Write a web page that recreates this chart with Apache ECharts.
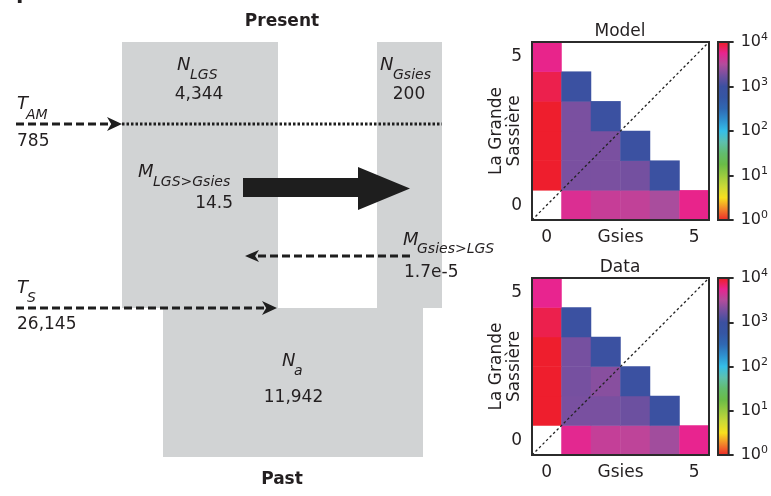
<!DOCTYPE html>
<html><head><meta charset="utf-8">
<script src="https://cdn.jsdelivr.net/npm/echarts@6/dist/echarts.min.js"></script>
<style>html,body{margin:0;padding:0;background:#fff}#c{width:771px;height:496px}</style>
</head><body><div id="c"></div>
<script>
// ---------------- DATA ----------------
const gsiesBins = ['0', '1', '2', '3', '4', '5'];
const lgsBins = ['0', '1', '2', '3', '4', '5'];
// joint SFS counts: row = La Grande Sassière allele count (0..5), column = Gsies allele count (0..5)
const modelSFS = [
  [null, 4900, 3900, 3700, 2900, 5750],
  [9700, 1900, 1900, 1800, 930],
  [9700, 1900, 1900, 930],
  [9700, 1900, 930],
  [8100, 930],
  [5750]
];
const dataSFS = [
  [null, 5300, 3800, 3550, 2700, 5600],
  [9700, 1870, 1870, 1660, 900],
  [9700, 1820, 2140, 930],
  [9700, 1820, 930],
  [8100, 930],
  [5600]
];
const colorExponents = [0, 1, 2, 3, 4];
const popLabels = ['LGS', 'Gsies', 'a'];
const popSizes = [4344, 200, 11942];
const migLabels = ['LGS>Gsies', 'Gsies>LGS'];
const migRates = [14.5, 1.7e-5];
const timeLabels = ['AM', 'S'];
const timeValues = [785, 26145];

// ---------------- STYLE ----------------
const FONT = '"DejaVu Sans", "Liberation Sans", Arial, sans-serif';
const TXT = '#231F20';
const GRAY = '#D1D3D4';
const DARK = '#1E1E1E';
const palette = ['#EE2B2A', '#F2862A', '#F8E01E', '#CBD936', '#9ACB3F', '#6ABC47', '#62BC6E', '#5DC0AE',
  '#35BEE8', '#2F90CF', '#2F68B3', '#3556A4', '#3C50A0', '#7350A0', '#B34C9C', '#E8248F', '#EE1E27'];

const fmtInt = v => v.toLocaleString('en-US');
function logCells(m) {
  const out = [];
  m.forEach((row, y) => row.forEach((v, x) => { if (v != null) out.push([x, y, Math.log10(v)]); }));
  return out;
}

// schematic layout (units of the hidden schematic axes)
const LAYOUT = {
  blocks: [[122, 42, 278, 308], [377, 42, 442, 308], [163, 308, 423, 457]],
  sizeLabelPos: [[177, 190, 199, 65, 95], [380, 393, 409, 65, 95], [282, 294, 293.5, 361, 398]],
  dotted: [122, 442, 124],
  timeArrows: [[16, 122, 124], [16, 277, 308]],
  timeText: [[17, 26, 104, 115, 142], [17, 27, 288, 298, 325]],
  bigArrow: { x0: 243, x1: 358, tip: 410, yTop: 178, yBot: 197, hTop: 167, hBot: 210 },
  backArrow: [410, 245, 256],
  migText: [[138, 153, 172, 182, 233, 204, 'right'], [403, 417, 240, 249, 404, 273, 'left']]
};

function renderSchematic(params, api) {
  const P = (x, y) => api.coord([x, y]);
  const ch = [];
  const font = (size, it, bold) => (it ? 'italic ' : '') + (bold ? 'bold ' : '') + size + 'px ' + FONT;
  const text = (x, y, s, size, opt) => {
    opt = opt || {};
    const p = P(x, y);
    ch.push({ type: 'text', x: p[0], y: p[1], style: { text: s, fill: TXT, font: font(size, opt.it, opt.bold), align: opt.align || 'left', verticalAlign: 'middle' } });
  };
  LAYOUT.blocks.forEach(b => {
    const a = P(b[0], b[1]), c = P(b[2], b[3]);
    ch.push({ type: 'rect', shape: { x: a[0], y: a[1], width: c[0] - a[0], height: c[1] - a[1] }, style: { fill: GRAY } });
  });
  // dotted admixture line
  const d0 = P(LAYOUT.dotted[0], LAYOUT.dotted[2]), d1 = P(LAYOUT.dotted[1], LAYOUT.dotted[2]);
  ch.push({ type: 'line', shape: { x1: d0[0], y1: d0[1], x2: d1[0], y2: d1[1] }, style: { stroke: DARK, lineWidth: 3, lineDash: [2.5, 2] } });
  const head = (tip, y, dir, len, half) => {
    const t = P(tip, y);
    ch.push({ type: 'polygon', shape: { points: [[t[0], t[1]], [t[0] - dir * len, t[1] - half], [t[0] - dir * len * 0.72, t[1]], [t[0] - dir * len, t[1] + half]] }, style: { fill: DARK } });
  };
  LAYOUT.timeArrows.forEach(a => {
    const s = P(a[0], a[2]), e = P(a[1] - 10, a[2]);
    ch.push({ type: 'line', shape: { x1: s[0], y1: s[1], x2: e[0], y2: e[1] }, style: { stroke: DARK, lineWidth: 3.2, lineDash: [8, 4] } });
    head(a[1], a[2], 1, 15, 7);
  });
  // back-migration dashed arrow
  const b = LAYOUT.backArrow;
  const bs = P(b[0], b[2]), be = P(b[1] + 10, b[2]);
  ch.push({ type: 'line', shape: { x1: bs[0], y1: bs[1], x2: be[0], y2: be[1] }, style: { stroke: DARK, lineWidth: 3.2, lineDash: [8, 4] } });
  head(b[1], b[2], -1, 14, 6);
  // big migration arrow
  const g = LAYOUT.bigArrow;
  const pts = [[g.x0, g.yTop], [g.x1, g.yTop], [g.x1, g.hTop], [g.tip, (g.hTop + g.hBot) / 2], [g.x1, g.hBot], [g.x1, g.yBot], [g.x0, g.yBot]].map(q => P(q[0], q[1]));
  ch.push({ type: 'polygon', shape: { points: pts }, style: { fill: DARK } });

  // texts
  text(282, 21.5, 'Present', 17, { bold: true, align: 'center' });
  text(282, 480, 'Past', 17, { bold: true, align: 'center' });
  text(16, -2, 'F', 20, { bold: true });
  LAYOUT.sizeLabelPos.forEach((p, i) => {
    text(p[0], p[3], 'N', 18, { it: true });
    text(p[1], p[3] + 10, popLabels[i], 14, { it: true });
    text(p[2], p[4], fmtInt(popSizes[i]), 17, { align: 'center' });
  });
  LAYOUT.timeText.forEach((p, i) => {
    text(p[0], p[2], 'T', 18, { it: true });
    text(p[1], p[3], timeLabels[i], 14, { it: true });
    text(p[0], p[4], fmtInt(timeValues[i]), 17);
  });
  LAYOUT.migText.forEach((p, i) => {
    text(p[0], p[2], 'M', 18, { it: true });
    text(p[1], p[3], migLabels[i], 14, { it: true });
    const v = migRates[i];
    const s = v < 0.001 ? v.toExponential(1) : String(v);
    text(p[4], p[5], s, 17, { align: p[6] });
  });
  return { type: 'group', children: ch };
}

// ---------------- CHART ----------------
const chart = echarts.init(document.getElementById('c'), null, { renderer: 'canvas' });
const panels = [{ title: 'Model', top: 42, height: 178, sfs: modelSFS }, { title: 'Data', top: 278, height: 177, sfs: dataSFS }];

const grid = [{ left: 0, top: 0, width: 470, height: 496 }];
const xAxis = [{ gridIndex: 0, type: 'value', min: 0, max: 470, show: false }];
const yAxis = [{ gridIndex: 0, type: 'value', min: 0, max: 496, inverse: true, show: false }];
const series = [{ type: 'custom', xAxisIndex: 0, yAxisIndex: 0, data: [[0, 0]], renderItem: renderSchematic, silent: true, z: 1 }];
const title = [];
const heatIdx = [];
const stops = palette.map((c, i) => ({ offset: i / (palette.length - 1), color: c }));

panels.forEach(pn => {
  const gH = grid.length;
  grid.push({ left: 532, top: pn.top, width: 177, height: pn.height, show: true, backgroundColor: 'transparent', borderColor: '#2b2b2b', borderWidth: 2, z: 10 });
  const gC = grid.length;
  grid.push({ left: 718, top: pn.top, width: 13, height: pn.height, show: true, backgroundColor: 'transparent', borderColor: '#2b2b2b', borderWidth: 2, z: 10 });
  title.push({ text: pn.title, left: 620, top: pn.top - 19, textAlign: 'center', padding: 0, textStyle: { fontFamily: FONT, fontSize: 17, fontWeight: 'normal', color: TXT } });
  const xi = xAxis.length, yi = yAxis.length;
  xAxis.push({
    gridIndex: gH, type: 'category', data: gsiesBins, name: 'Gsies', nameLocation: 'middle', nameGap: 9, nameMoveOverlap: false,
    nameTextStyle: { fontFamily: FONT, fontSize: 17, color: TXT },
    axisLine: { show: false }, axisTick: { show: false }, splitLine: { show: false },
    axisLabel: { interval: 0, margin: 9, fontFamily: FONT, fontSize: 17, color: TXT, formatter: (v, i) => (i === 0 || i === gsiesBins.length - 1) ? v : '' }
  });
  yAxis.push({
    gridIndex: gH, type: 'category', data: lgsBins, name: 'La Grande\nSassière', nameLocation: 'middle', nameRotate: 90, nameGap: 8, nameMoveOverlap: false,
    nameTextStyle: { fontFamily: FONT, fontSize: 17, color: TXT, lineHeight: 18 },
    axisLine: { show: false }, axisTick: { show: false }, splitLine: { show: false },
    axisLabel: { interval: 0, margin: 10, padding: [5, 0, 0, 0], fontFamily: FONT, fontSize: 17, color: TXT, formatter: (v, i) => (i === 0 || i === lgsBins.length - 1) ? v : '' }
  });
  xAxis.push({ gridIndex: gH, type: 'value', min: 0, max: gsiesBins.length, show: false });
  yAxis.push({ gridIndex: gH, type: 'value', min: 0, max: lgsBins.length, show: false });
  heatIdx.push(series.length);
  series.push({ type: 'heatmap', xAxisIndex: xi, yAxisIndex: yi, data: logCells(pn.sfs), itemStyle: { borderWidth: 0 }, silent: true, z: 2 });
  series.push({ type: 'line', xAxisIndex: xi + 1, yAxisIndex: yi + 1, data: [[0, 0], [gsiesBins.length, lgsBins.length]], symbol: 'none', silent: true, z: 5,
    lineStyle: { color: '#222', width: 1.3, type: [2.5, 2.5] } });
  // colorbar
  const cx = xAxis.length, cy = yAxis.length;
  xAxis.push({ gridIndex: gC, type: 'category', data: [''], show: false });
  yAxis.push({
    gridIndex: gC, type: 'value', position: 'right', min: colorExponents[0], max: colorExponents[colorExponents.length - 1], interval: 1,
    axisLine: { show: false }, splitLine: { show: false },
    axisTick: { show: true, inside: false, length: 5, lineStyle: { color: '#2b2b2b', width: 2 } },
    axisLabel: { margin: 12, fontFamily: FONT, fontSize: 16, lineHeight: 20, color: TXT, formatter: v => '10{s|' + v + '}',
      rich: { s: { fontFamily: FONT, fontSize: 11, lineHeight: 11, verticalAlign: 'top', color: TXT } } }
  });
  series.push({ type: 'bar', xAxisIndex: cx, yAxisIndex: cy, data: [colorExponents[colorExponents.length - 1]], barWidth: '100%', silent: true,
    itemStyle: { color: new echarts.graphic.LinearGradient(0, 1, 0, 0, stops) } });
});

chart.setOption({
  animation: false,
  backgroundColor: '#fff',
  title, grid, xAxis, yAxis, series,
  visualMap: { type: 'continuous', min: 0, max: 4, show: false, seriesIndex: heatIdx, inRange: { color: palette } }
});
</script></body></html>
